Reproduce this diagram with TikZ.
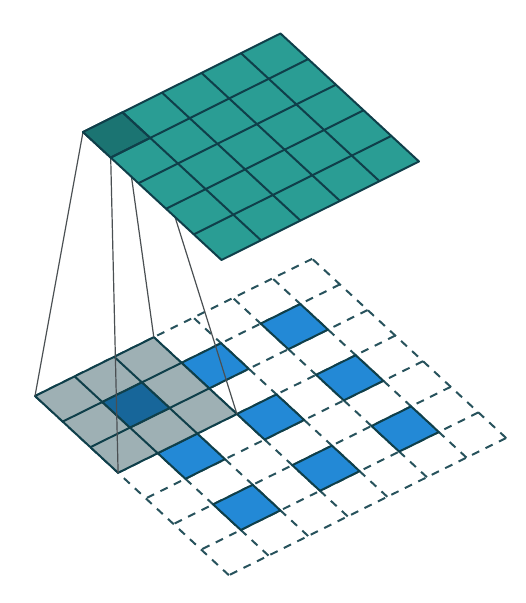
\documentclass[tikz,border=0pt]{standalone}
\usepackage{xcolor}
\usetikzlibrary{calc}
\definecolor{tealcell}{HTML}{2A9D94}
\definecolor{tealdark}{HTML}{1B7472}
\definecolor{bluecell}{HTML}{2389D6}
\definecolor{bluedark}{HTML}{17669A}
\definecolor{graycell}{HTML}{9EB0B4}
\definecolor{edgecol}{HTML}{0F3F4A}
\definecolor{linkcol}{HTML}{4A4F52}
\newcommand{\quadcell}[4]{(#1,#2) -- (#3,#2) -- (#3,#4) -- (#1,#4) -- cycle}
\begin{document}
\begin{tikzpicture}[
    x=1pt, y=1pt,
    cell/.style={draw=edgecol, line width=2pt, line join=round},
    dashgrid/.style={draw=edgecol!90!white, line width=2pt, dash pattern=on 8pt off 7pt},
    link/.style={draw=linkcol, line width=1.2pt},
    basegrid/.style={shift={(35pt,207pt)}, x={(39.6pt,19.6pt)}, y={(27.7pt,-25.6pt)}},
    topgrid/.style={shift={(83pt,471pt)}, x={(39.5pt,19.7pt)}, y={(27.7pt,-25.6pt)}}
]
\useasboundingbox (0,0) rectangle (526,603);

% Input grid, dashed
\begin{scope}[basegrid]
\foreach \i in {0,...,7} {
    \draw[dashgrid] (\i,7) -- (\i,0);
    \draw[dashgrid] (7,\i) -- (0,\i);
}
% Dilated cells
\foreach \i in {1,3,5} \foreach \j in {1,3,5}
    \draw[cell, fill=bluecell] \quadcell{\i}{\j}{\i+1}{\j+1};
% Kernel footprint
\draw[cell, fill=graycell] \quadcell{0}{0}{3}{3};
\foreach \k in {1,2} {
    \draw[cell] (\k,0) -- (\k,3);
    \draw[cell] (0,\k) -- (3,\k);
}
\draw[cell, fill=bluedark] \quadcell{1}{1}{2}{2};
\coordinate (kernelL) at (0,0);
\coordinate (kernelT) at (3,0);
\coordinate (kernelB) at (0,3);
\coordinate (kernelR) at (3,3);
\end{scope}

% Corners of the output cell
\begin{scope}[topgrid]
\coordinate (cellL) at (0,0);
\coordinate (cellT) at (1,0);
\coordinate (cellB) at (0,1);
\coordinate (cellR) at (1,1);
\end{scope}

% Links
\draw[link] (cellL) -- (kernelL);
\draw[link] (cellB) -- (kernelB);
\draw[link] (cellT) -- (kernelT);
\draw[link] (cellR) -- (kernelR);

% Output grid
\begin{scope}[topgrid]
\draw[cell, fill=tealcell] \quadcell{0}{0}{5}{5};
\draw[cell, fill=tealdark] \quadcell{0}{0}{1}{1};
\foreach \k in {1,...,4} {
    \draw[cell] (\k,0) -- (\k,5);
    \draw[cell] (0,\k) -- (5,\k);
}
\end{scope}

\end{tikzpicture}
\end{document}
